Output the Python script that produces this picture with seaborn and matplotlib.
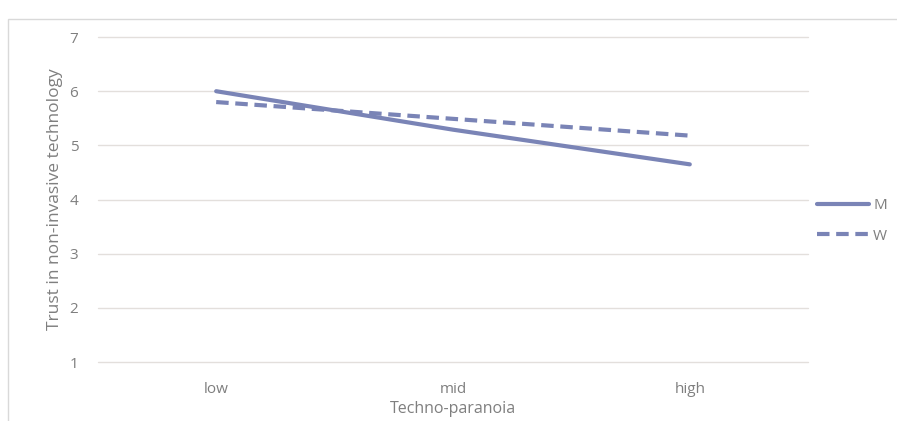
import pandas as pd
import matplotlib.pyplot as plt
import seaborn as sns
from matplotlib.patches import Rectangle

# Values
levels = ['low', 'mid', 'high']
trust_m = [6.00, 5.29, 4.65]
trust_w = [5.80, 5.49, 5.18]

df = pd.DataFrame({
    'Techno-paranoia': levels * 2,
    'Trust': trust_m + trust_w,
    'Group': ['M'] * 3 + ['W'] * 3,
})
df['x'] = df['Techno-paranoia'].map({k: i for i, k in enumerate(levels)})

sns.set_style('white')
plt.rcParams['font.family'] = ['Open Sans', 'DejaVu Sans']

text_color = '#7f7f7f'
line_color = '#7a84b6'

fig = plt.figure(figsize=(8.97, 4.21), dpi=100)
ax = fig.add_axes([0.109, 0.140, 0.792, 0.772])

sns.lineplot(data=df, x='x', y='Trust', hue='Group', style='Group',
             palette=[line_color, line_color], dashes=[(None, None), (3, 1.6)],
             linewidth=3, ax=ax, legend=False)

ax.set_xlim(-0.5, 2.5)
ax.set_ylim(1, 7)
ax.set_yticks(range(1, 8))
ax.set_xticks(range(3))
ax.set_xticklabels(levels)
ax.yaxis.grid(True, color='#e3dfdc', linewidth=1)
for gl in ax.get_ygridlines():
    gl.set_clip_on(False)
ax.set_axisbelow(True)
for s in ax.spines.values():
    s.set_visible(False)
ax.tick_params(axis='both', length=0, labelsize=11, colors=text_color)
ax.tick_params(axis='x', pad=14)
ax.tick_params(axis='y', pad=14)
ax.set_xlabel('Techno-paranoia', fontsize=11.5, color=text_color, labelpad=3)
ax.set_ylabel('Trust in non-invasive technology', fontsize=12.5, color=text_color, labelpad=5)

# legend on the right
handles = [plt.Line2D([], [], color=line_color, lw=3),
           plt.Line2D([], [], color=line_color, lw=3, dashes=(3, 1.6))]
leg = fig.legend(handles, ['M', 'W'], loc='center left', bbox_to_anchor=(0.895, 0.475),
                 frameon=False, handlelength=3.4, labelspacing=1.0,
                 fontsize=11, handletextpad=0.3)
for t in leg.get_texts():
    t.set_color(text_color)

# light outer border of the chart area
fig.patches.append(Rectangle((8 / 897, -0.02), 1.0, 0.987 - 14 / 421 + 0.02,
                             transform=fig.transFigure, fill=False,
                             edgecolor='#d9d9d9', linewidth=1))

fig.savefig('out.png', dpi=100)
